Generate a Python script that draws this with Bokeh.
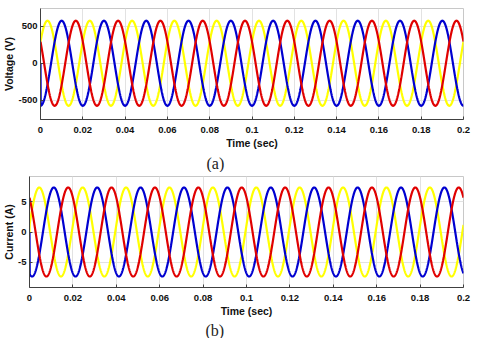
import numpy as np
from bokeh.plotting import figure
from bokeh.models import FixedTicker, Title, ColumnDataSource, Range1d
from bokeh.embed import file_html
from bokeh.resources import INLINE

# ---------------- data ----------------
freq_hz = 50.0
t_start, t_end = 0.0, 0.2
n_samples = 2001

x_ticks = [0, 0.02, 0.04, 0.06, 0.08, 0.1, 0.12, 0.14, 0.16, 0.18, 0.2]
x_tick_labels = ["0", "0.02", "0.04", "0.06", "0.08", "0.1",
                 "0.12", "0.14", "0.16", "0.18", "0.2"]

v_ticks = [-500, 0, 500]
v_tick_labels = ["-500", "0", "500"]
v_range = [-760, 740]
v_amplitude = 575.0
v_peak_time = {"yellow": 0.0033, "blue": 0.0100, "red": 0.0167}
v_first_sample = {"blue": 0.0}

i_ticks = [-5, 0, 5]
i_tick_labels = ["-5", "0", "5"]
i_range = [-9.1, 9.1]
i_amplitude = 7.3
i_peak_time = {"yellow": 0.0045, "blue": 0.0112, "red": 0.0178}
i_first_sample = {"yellow": 0.0, "blue": 0.0}

colors = {"yellow": "#FFFF00", "blue": "#0000D0", "red": "#E00000"}
draw_order = ["yellow", "blue", "red"]

t = np.linspace(t_start, t_end, n_samples)


def phase_wave(amp, peak_t, first=None):
    y = amp * np.cos(2 * np.pi * freq_hz * (t - peak_t))
    if first is not None:
        y = y.copy()
        y[0] = first
    return y


def make_panel(y_ticks, y_labels, y_rng, amp, peaks, firsts, ylab, caption,
               frame_w, border_top, cap_offset, cap_standoff):
    p = figure(output_backend="svg", toolbar_location=None,
               frame_width=frame_w, frame_height=111,
               x_range=Range1d(t_start, t_end), y_range=Range1d(*y_rng),
               min_border_left=0, min_border_right=12,
               min_border_top=border_top, min_border_bottom=0)
    p.background_fill_color = "white"
    p.outline_line_color = "#c8c8c8"
    p.outline_line_width = 1
    for key in draw_order:
        src = ColumnDataSource(dict(t=t, y=phase_wave(amp, peaks[key], firsts.get(key))))
        p.line("t", "y", source=src, line_color=colors[key], line_width=2.2)

    p.xaxis.ticker = FixedTicker(ticks=x_ticks)
    p.xaxis.major_label_overrides = {tk: lb for tk, lb in zip(x_ticks, x_tick_labels)}
    p.yaxis.ticker = FixedTicker(ticks=y_ticks)
    p.yaxis.major_label_overrides = {tk: lb for tk, lb in zip(y_ticks, y_labels)}

    for ax in (p.xaxis[0], p.yaxis[0]):
        ax.axis_line_color = "#404040"
        ax.axis_line_width = 1
        ax.major_tick_in = 3
        ax.major_tick_out = 0
        ax.major_tick_line_color = "#404040"
        ax.minor_tick_line_color = None
        ax.major_label_text_font = "Liberation Sans"
        ax.major_label_text_font_style = "bold"
        ax.major_label_text_font_size = "9.5px"
        ax.major_label_text_color = "#111111"
        ax.axis_label_text_font = "Liberation Sans"
        ax.axis_label_text_font_style = "bold"
        ax.axis_label_text_font_size = "10.5px"
        ax.axis_label_text_color = "#111111"
    p.xaxis.axis_label = "Time (sec)"
    p.xaxis.major_label_standoff = 7
    p.xaxis.axis_label_standoff = 1
    p.yaxis.axis_label = ylab
    p.yaxis.major_label_standoff = 3
    p.yaxis.axis_label_standoff = 0

    p.xgrid.grid_line_color = "#e2e2e2"
    p.ygrid.grid_line_color = "#e2e2e2"
    p.xgrid.ticker = FixedTicker(ticks=x_ticks)
    p.ygrid.ticker = FixedTicker(ticks=y_ticks)

    cap = Title(text=caption, align="left", offset=cap_offset,
                text_font="Liberation Serif", text_font_size="16px",
                text_font_style="normal", text_color="#222222",
                standoff=cap_standoff)
    p.add_layout(cap, "below")
    return p


p1 = make_panel(v_ticks, v_tick_labels, v_range, v_amplitude, v_peak_time,
                v_first_sample, "Voltage (V)", "(a)", 423, 8, 166, 2)
p2 = make_panel(i_ticks, i_tick_labels, i_range, i_amplitude, i_peak_time,
                i_first_sample, "Current (A)", "(b)", 434, 4, 176, 0)

open("out.html", "w").write(file_html([p1, p2], INLINE))
